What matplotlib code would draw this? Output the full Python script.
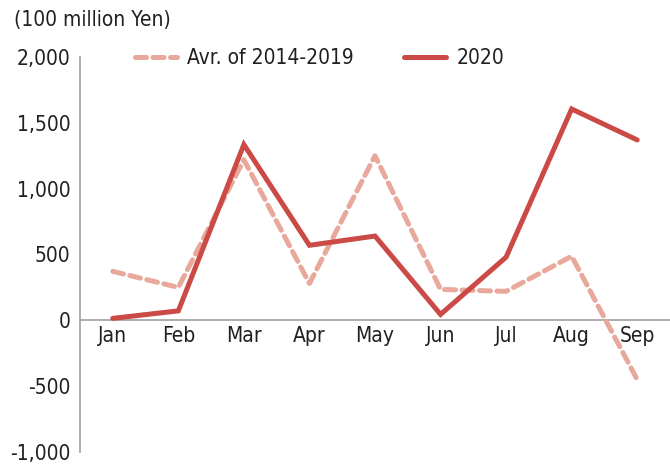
import matplotlib
matplotlib.use("Agg")
import matplotlib.pyplot as plt
import numpy as np

months = ["Jan", "Feb", "Mar", "Apr", "May", "Jun", "Jul", "Aug", "Sep"]
avg_2014_2019 = [372, 250, 1220, 280, 1250, 235, 220, 487, -450]
y2020 = [15, 72, 1335, 570, 640, 45, 480, 1605, 1370]
yticks = [-1000, -500, 0, 500, 1000, 1500, 2000]
ytick_labels = ["-1,000", "-500", "0", "500", "1,000", "1,500", "2,000"]

plt.rcParams['font.family'] = ['DejaVu Sans']
plt.rcParams['font.stretch'] = 'condensed'

fig = plt.figure(figsize=(6.7, 4.65), dpi=100)
ax = fig.add_axes([80/670, 1-452/465, 1-80/670, (452-57)/465])

x = np.arange(len(months))
ax.plot(x, avg_2014_2019, color="#e8a89b", lw=3.6, ls=(0, (2.2, 1.3)),
        dash_capstyle="round", label="Avr. of 2014-2019")
ax.plot(x, y2020, color="#cc4a46", lw=3.6, solid_capstyle="round",
        solid_joinstyle="miter", label="2020")

ax.set_xlim(-0.5, len(months) - 0.5)
ax.set_ylim(-1000, 2000)
ax.set_yticks(yticks)
ax.set_yticklabels(ytick_labels, fontsize=15, color="#231f20")
ax.tick_params(axis="y", length=0, pad=7)
ax.tick_params(axis="x", length=0)
ax.set_xticks([])

for i, m in enumerate(months):
    ax.text(i, -40, m, ha="center", va="top", fontsize=15, color="#231f20")

for s in ["top", "right", "bottom"]:
    ax.spines[s].set_visible(False)
ax.spines["left"].set_color("#a0a0a0")
ax.spines["left"].set_linewidth(1.2)
ax.axhline(0, color="#a0a0a0", lw=1.2, zorder=0)

ax.legend(loc="upper left", bbox_to_anchor=(0.062, 1.07), ncol=2, frameon=False,
          fontsize=15, handlelength=2.0, columnspacing=2.4, handletextpad=0.5,
          labelcolor="#231f20")

fig.text(14/670, 1-20/465, "(100 million Yen)", fontsize=15, va="center",
         color="#231f20")

fig.savefig("out.png", dpi=100)
